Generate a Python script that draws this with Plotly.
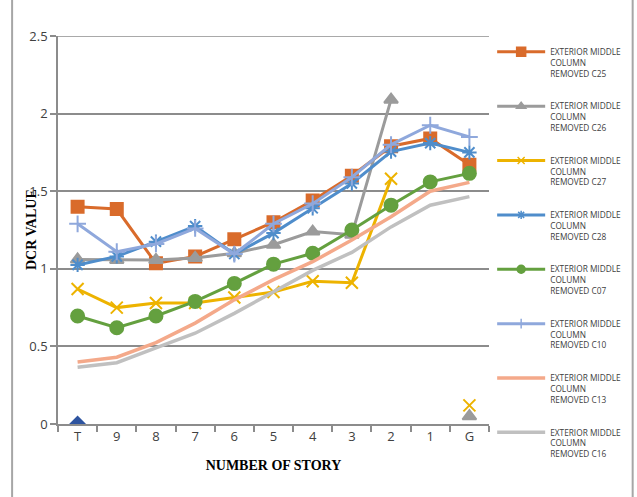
import plotly.graph_objects as go

# Storey labels along the x axis (top storey first, ground last)
stories = ["T", "9", "8", "7", "6", "5", "4", "3", "2", "1", "G"]

# Demand-to-capacity ratios for each removed-column case
dcr_c25 = [1.40, 1.385, 1.035, 1.08, 1.19, 1.30, 1.44, 1.60, 1.79, 1.84, 1.67]
dcr_c26 = [1.06, 1.057, 1.057, 1.07, 1.10, 1.155, 1.24, 1.22, 2.09, None, 0.05]
dcr_c27 = [0.87, 0.75, 0.78, 0.78, 0.815, 0.85, 0.92, 0.91, 1.58, None, 0.12]
dcr_c28 = [1.025, 1.08, 1.175, 1.275, 1.095, 1.23, 1.39, 1.55, 1.755, 1.81, 1.75]
dcr_c07 = [0.696, 0.62, 0.696, 0.79, 0.906, 1.03, 1.10, 1.25, 1.41, 1.56, 1.615]
dcr_c10 = [1.29, 1.11, 1.16, 1.26, 1.095, 1.29, 1.42, 1.59, 1.80, 1.925, 1.85]
dcr_c13 = [0.40, 0.43, 0.525, 0.65, 0.80, 0.93, 1.046, 1.185, 1.335, 1.50, 1.557]
dcr_c16 = [0.365, 0.395, 0.49, 0.585, 0.713, 0.85, 0.99, 1.106, 1.27, 1.41, 1.465]
# Unlabelled single-point series at the top storey
dcr_extra = [0.0]

series = [
    ("C25", dcr_c25, "#D96B2B", "square", 12, 9),
    ("C26", dcr_c26, "#9B9B9B", "triangle-up", 12, 8),
    ("C27", dcr_c27, "#EDB300", "x-thin-open", 12, 7),
    ("C28", dcr_c28, "#4F8DCB", "asterisk-open", 12, 7),
    ("C07", dcr_c07, "#64A03F", "circle", 13, 8),
    ("C10", dcr_c10, "#8FA8DC", "cross-thin-open", 12, 7),
    ("C13", dcr_c13, "#F4A98A", None, 0, 0),
    ("C16", dcr_c16, "#C0C0C0", None, 0, 0),
]

fig = go.Figure()

fig.add_trace(go.Scatter(
    x=stories[:1], y=dcr_extra, mode="markers",
    marker=dict(symbol="diamond", size=13, color="#2E54A0"),
    showlegend=False, cliponaxis=True,
))

for i, (name, vals, color, sym, size, leg_size) in enumerate(series):
    label = f"EXTERIOR MIDDLE<br>COLUMN<br>REMOVED {name}"
    grp = f"g{i}"
    if sym is None:
        fig.add_trace(go.Scatter(
            x=stories, y=vals, mode="lines", name=label,
            line=dict(color=color, width=3.5),
            legendgroup=grp, connectgaps=False,
        ))
        continue
    fig.add_trace(go.Scatter(
        x=stories, y=vals, mode="lines+markers", name=label,
        line=dict(color=color, width=3),
        marker=dict(symbol=sym, size=size, color=color,
                    line=dict(color=color, width=2)),
        legendgroup=grp, connectgaps=False, cliponaxis=False,
        showlegend=False,
    ))
    # legend key with a smaller marker
    fig.add_trace(go.Scatter(
        x=[None], y=[None], mode="lines+markers", name=label,
        line=dict(color=color, width=3),
        marker=dict(symbol=sym, size=leg_size, color=color,
                    line=dict(color=color, width=1.5)),
        legendgroup=grp,
    ))

grid_col = "#8C8C8C"
fig.update_layout(
    width=637, height=497,
    margin=dict(l=58, r=147, t=36, b=73),
    paper_bgcolor="white", plot_bgcolor="white",
    showlegend=True,
    legend=dict(
        x=1.005, y=0.99, xanchor="left", yanchor="top",
        font=dict(family="Open Sans", size=8.3, color="#404040"),
        tracegroupgap=19, itemwidth=48, valign="top",
        maxheight=470,
        bgcolor="rgba(0,0,0,0)",
    ),
    xaxis=dict(
        type="category", range=[-0.5, 10.5],
        showline=True, linecolor=grid_col, linewidth=1.5,
        ticks="outside", tickson="boundaries", ticklen=6,
        tickcolor=grid_col, tickwidth=1.5,
        showgrid=False,
        tickfont=dict(family="Open Sans", size=13, color="#404040"),
        title=dict(text="<b>NUMBER OF STORY</b>",
                   font=dict(family="Liberation Serif", size=14, color="black"),
                   standoff=16),
    ),
    yaxis=dict(
        range=[0, 2.5], tickvals=[0, 0.5, 1, 1.5, 2, 2.5],
        ticktext=["0", "0.5", "1", "1.5", "2", "2.5"],
        showline=True, linecolor=grid_col, linewidth=1.5,
        ticks="outside", ticklen=6, tickcolor=grid_col, tickwidth=1.5,
        showgrid=True, gridcolor=grid_col, gridwidth=1.5,
        zeroline=False,
        tickfont=dict(family="Open Sans", size=13, color="#404040"),
    ),
    annotations=[
        dict(text="<b>DCR VALUE</b>", textangle=-90,
             xref="paper", yref="paper", x=(31 - 58) / 432, y=0.5,
             xanchor="center", yanchor="middle", showarrow=False,
             font=dict(family="Liberation Serif", size=14, color="black")),
    ],
    shapes=[
        # top gridline at 2.5
        dict(type="line", xref="paper", yref="y", x0=0, x1=1, y0=2.5, y1=2.5,
             line=dict(color=grid_col, width=1.5), layer="below"),
        # outer chart border
        dict(type="line", xref="paper", yref="paper",
             x0=-46 / 432, x1=-46 / 432, y0=-0.3, y1=1.2,
             line=dict(color="#A6A6A6", width=2)),
        dict(type="line", xref="paper", yref="paper",
             x0=(634 - 58) / 432, x1=(634 - 58) / 432, y0=-0.3, y1=1.2,
             line=dict(color="#A6A6A6", width=2)),
    ],
)

fig.write_html("out.html")
